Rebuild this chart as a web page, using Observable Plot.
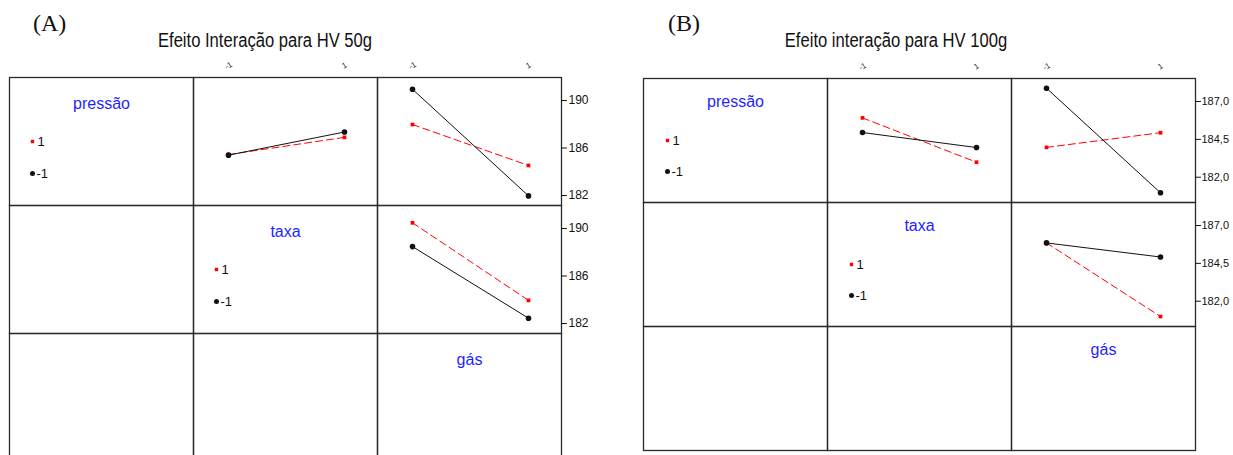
<!DOCTYPE html>
<html><head><meta charset="utf-8">
<script src="https://cdn.jsdelivr.net/npm/d3@7"></script>
<script src="https://cdn.jsdelivr.net/npm/@observablehq/plot@0.6"></script>
<style>
body{margin:0;background:#fff;width:1233px;height:455px;overflow:hidden;position:relative;font-family:"Liberation Sans Narrow","Arial Narrow","Liberation Sans",Arial,sans-serif;color:#111;}
.lab{position:absolute;font-family:"Liberation Serif","Times New Roman",serif;font-size:24px;line-height:1;}
.title{position:absolute;font-size:20px;line-height:1;white-space:nowrap;transform:translateX(-50%) scaleX(0.83);transform-origin:50% 50%;}
.panel{position:absolute;top:50px;}
</style></head><body>
<div class="lab" style="left:33px;top:11px">(A)</div>
<div class="lab" style="left:668px;top:11px">(B)</div>
<div class="title" id="tA" style="left:265px;top:30px"></div>
<div class="title" id="tB" style="left:896px;top:30px"></div>
<div class="panel" id="pA" style="left:0px"></div>
<div class="panel" id="pB" style="left:630px"></div>
<script>
// ---- data ----
const factors = ["pressão", "taxa", "gás"];
const levels = [-1, 1];
const pairs = [["pressão", "taxa"], ["pressão", "gás"], ["taxa", "gás"]]; // [row (legend) factor, column (x) factor]
// Panel A (HV 50g): row factor at -1 (black solid) and at 1 (red dashed), values at x = -1, 1
const aLow  = [[185.40, 187.35], [190.95, 181.97], [188.48, 182.45]];
const aHigh = [[185.45, 186.90], [187.98, 184.53], [190.48, 183.95]];
// Panel B (HV 100g)
const bLow  = [[184.95, 183.96], [187.88, 180.97], [185.85, 184.92]];
const bHigh = [[185.92, 182.99], [183.97, 184.94], [185.85, 180.99]];
const aYTicks = [182, 186, 190];
const bYTicks = [182.0, 184.5, 187.0];
const topTicks = [-1, 1];
const legendLabels = ["1", "-1"];
const aTitle = "Efeito Interação para HV 50g";
const bTitle = "Efeito interação para HV 100g";

const RED = "#ff0000", BLACK = "#111111", BLUE = "#1f1fff", GRID = "#2a2a2a";
const tickShape = {draw(context, l) { context.moveTo(0, 0); context.lineTo(0, -l); }};

function panel({low, high, yTicks, fmt, yDomain, width, height, margins, insetLeft, insetRight, nameDy, legDx, legDy1, legDy2, tickFont, tickDx}) {
  const pts = [];
  pairs.forEach(([row, col], i) => {
    levels.forEach((xv, j) => {
      pts.push({row, col, level: -1, x: xv, y: low[i][j]});
      pts.push({row, col, level: 1, x: xv, y: high[i][j]});
    });
  });
  const cells = d3.cross(factors, factors).map(([row, col]) => ({row, col}));
  const diag = factors.map(f => ({row: f, col: f, name: f}));
  const legRows = factors.slice(0, 2);
  const legHi = legRows.map(f => ({row: f, col: f, label: legendLabels[0]}));
  const legLo = legRows.map(f => ({row: f, col: f, label: legendLabels[1]}));
  const tops = ["taxa", "gás"].flatMap(col => topTicks.map(v => ({row: "pressão", col, v, label: String(v)})));
  const yt = ["pressão", "taxa"].flatMap(row => yTicks.map(v => ({row, col: "gás", v, label: fmt(v)})));
  const hi = pts.filter(d => d.level === 1), lo = pts.filter(d => d.level === -1);
  return Plot.plot({
    width, height,
    marginTop: margins[0], marginRight: margins[1], marginBottom: margins[2], marginLeft: margins[3],
    style: {fontFamily: '"Liberation Sans Narrow","Arial Narrow","Liberation Sans",Arial,sans-serif', fontSize: "12px", background: "transparent", overflow: "visible", color: "#111"},
    fx: {domain: factors, padding: 0, axis: null},
    fy: {domain: factors, padding: 0, axis: null},
    x: {domain: [-1, 1], insetLeft, insetRight, axis: null},
    y: {domain: yDomain, axis: null},
    marks: [
      Plot.text(cells, {fx: "col", fy: "row", text: () => ""}),
      Plot.frame({stroke: GRID, strokeWidth: 1.3}),
      Plot.line(hi, {fx: "col", fy: "row", x: "x", y: "y", stroke: RED, strokeWidth: 1, strokeDasharray: "7,4"}),
      Plot.line(lo, {fx: "col", fy: "row", x: "x", y: "y", stroke: BLACK, strokeWidth: 1}),
      Plot.dot(hi, {fx: "col", fy: "row", x: "x", y: "y", symbol: "square", r: 2.1, fill: RED}),
      Plot.dot(lo, {fx: "col", fy: "row", x: "x", y: "y", r: 2.8, fill: BLACK}),
      Plot.text(diag, {fx: "col", fy: "row", text: "name", frameAnchor: "top", lineAnchor: "middle", dy: nameDy, fill: BLUE, fontSize: 16}),
      Plot.dot(legHi, {fx: "col", fy: "row", frameAnchor: "top-left", dx: legDx, dy: legDy1, symbol: "square", r: 1.9, fill: RED}),
      Plot.dot(legLo, {fx: "col", fy: "row", frameAnchor: "top-left", dx: legDx, dy: legDy2, r: 2.5, fill: BLACK}),
      Plot.text(legHi, {fx: "col", fy: "row", text: "label", frameAnchor: "top-left", lineAnchor: "middle", dx: legDx + 5, dy: legDy1, textAnchor: "start", fontSize: 13}),
      Plot.text(legLo, {fx: "col", fy: "row", text: "label", frameAnchor: "top-left", lineAnchor: "middle", dx: legDx + 4, dy: legDy2, textAnchor: "start", fontSize: 13}),
      Plot.text(tops, {fx: "col", fy: "row", x: "v", text: "label", frameAnchor: "top", lineAnchor: "middle", dy: -12, rotate: -30, fontSize: 8}),
      Plot.vector(yt, {fx: "col", fy: "row", y: "v", frameAnchor: "right", rotate: 90, length: 5, anchor: "start", shape: tickShape, stroke: BLACK, strokeWidth: 1}),
      Plot.text(yt, {fx: "col", fy: "row", y: "v", text: "label", frameAnchor: "right", dx: tickDx, textAnchor: "start", fontSize: tickFont})
    ]
  });
}

document.getElementById("tA").textContent = aTitle;
document.getElementById("tB").textContent = bTitle;

document.getElementById("pA").append(panel({
  low: aLow, high: aHigh, yTicks: aYTicks, fmt: d => String(d),
  yDomain: [181.16, 191.94], width: 616, height: 420, margins: [27, 55, 9, 9],
  insetLeft: 35, insetRight: 33, nameDy: 26, legDx: 23, legDy1: 64, legDy2: 96, tickFont: 12, tickDx: 7
}));
document.getElementById("pB").append(panel({
  low: bLow, high: bHigh, yTicks: bYTicks, fmt: d => d.toFixed(1).replace(".", ","),
  yDomain: [180.33, 188.52], width: 603, height: 410, margins: [27, 37, 10, 12],
  insetLeft: 35, insetRight: 35, nameDy: 23, legDx: 24, legDy1: 62, legDy2: 93, tickFont: 11, tickDx: 6
}));
</script>
</body></html>
